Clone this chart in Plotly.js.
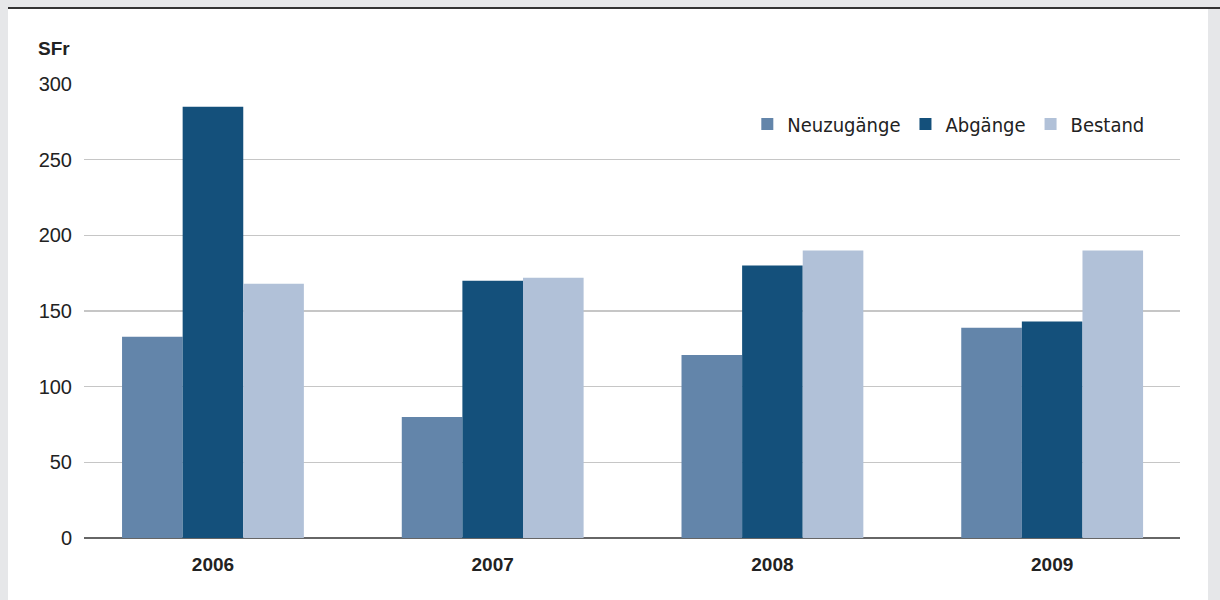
<!DOCTYPE html>
<html>
<head>
<meta charset="utf-8">
<script src="https://cdn.plot.ly/plotly-3.0.1.min.js"></script>
<style>
  html, body { margin: 0; padding: 0; background: #e6e7e9; width: 1220px; height: 600px; overflow: hidden; }
  #panel { position: absolute; left: 8px; top: 7px; width: 1200px; height: 593px; background: #ffffff; }
  #topline { position: absolute; left: 8px; top: 7px; width: 1212px; height: 1.5px; background: #333333; }
  #chart { position: absolute; left: 0; top: 0; width: 1220px; height: 600px; }
</style>
</head>
<body>
<div id="panel"></div>
<div id="topline"></div>
<div id="chart"></div>
<script>
const years = ['2006', '2007', '2008', '2009'];
const neuzugaenge = [133, 80, 121, 139];
const abgaenge = [285, 170, 180, 143];
const bestand = [168, 172, 190, 190];
const yTicks = [0, 50, 100, 150, 200, 250, 300];

const FONT = '"Liberation Sans Narrow", "DejaVu Sans Condensed", "Liberation Sans", Arial, sans-serif';
const FONT_REG = '"Liberation Sans", Arial, sans-serif';

const traces = [
  { type: 'bar', name: 'Neuzugänge', x: years, y: neuzugaenge, marker: { color: '#6385aa' } },
  { type: 'bar', name: 'Abgänge', x: years, y: abgaenge, marker: { color: '#14507b' } },
  { type: 'bar', name: 'Bestand', x: years, y: bestand, marker: { color: '#b1c1d8' } }
];

const layout = {
  width: 1220, height: 600,
  margin: { l: 84, r: 40, t: 84, b: 62 },
  paper_bgcolor: 'rgba(0,0,0,0)',
  plot_bgcolor: 'rgba(0,0,0,0)',
  barmode: 'group',
  bargap: 0.35,
  bargroupgap: 0,
  font: { family: FONT_REG, color: '#222' },
  xaxis: {
    type: 'category',
    range: [-0.461, 3.457],
    showgrid: false,
    ticks: '',
    ticklabelstandoff: 13,
    tickfont: { family: FONT_REG, size: 19, color: '#222', weight: 'bold' },
    showline: false,
    zeroline: false
  },
  yaxis: {
    range: [0, 300],
    tickvals: yTicks,
    ticktext: yTicks.map(String),
    showgrid: true,
    gridcolor: '#c6c6c6',
    gridwidth: 1.5,
    zeroline: true,
    zerolinecolor: '#666',
    zerolinewidth: 1.5,
    ticks: '',
    ticklabelstandoff: 11,
    tickfont: { family: FONT_REG, size: 20, color: '#222' },
    fixedrange: true
  },
  legend: {
    orientation: 'h',
    x: 0.972, xanchor: 'right',
    y: 0.912, yanchor: 'middle',
    font: { family: FONT, size: 20, color: '#222' },
    bgcolor: 'rgba(0,0,0,0)',
    traceorder: 'normal'
  },
  annotations: [{
    xref: 'paper', yref: 'paper',
    x: -0.011, y: 1.079, xanchor: 'right', yanchor: 'middle',
    text: '<b>SFr</b>', showarrow: false,
    font: { family: FONT_REG, size: 19, color: '#222' }
  }]
};

Plotly.newPlot('chart', traces, layout, { displayModeBar: false, staticPlot: true });
</script>
</body>
</html>
